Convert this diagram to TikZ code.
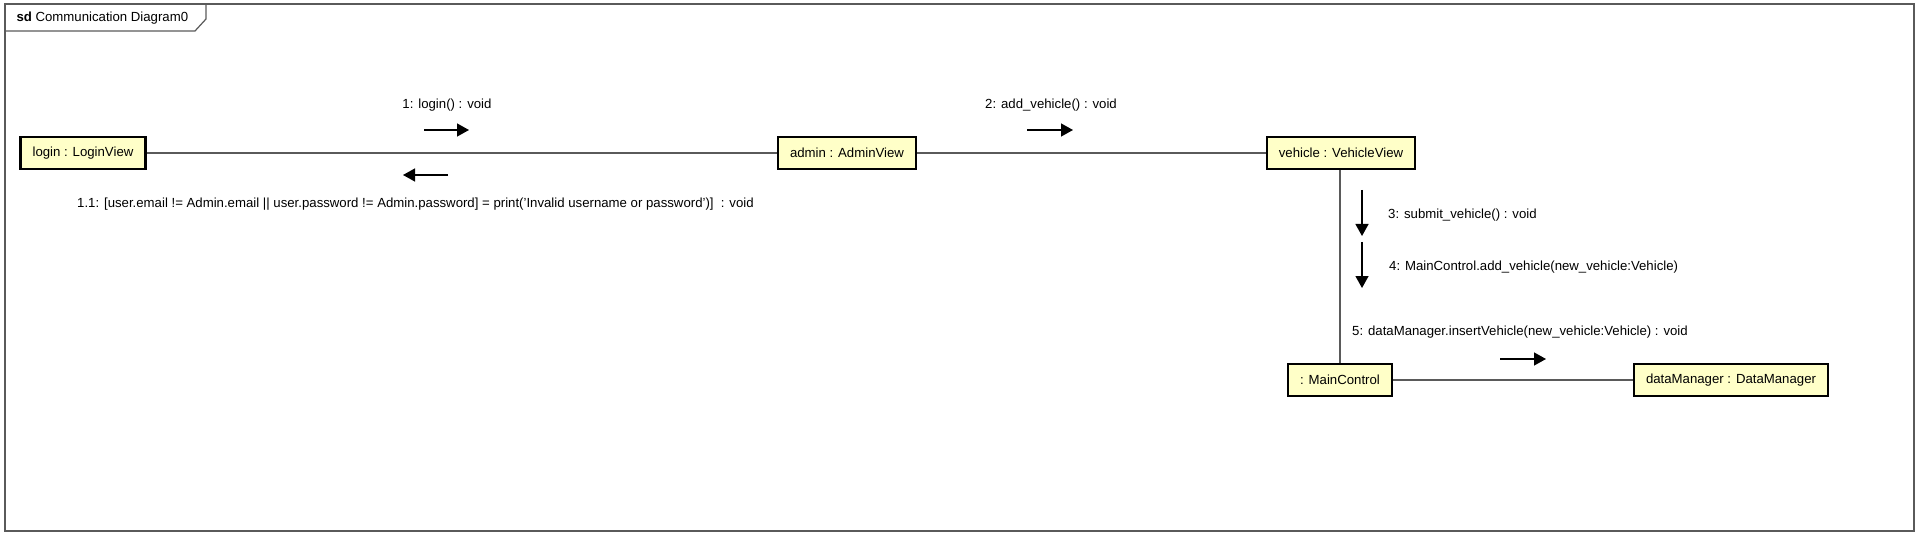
\documentclass[tikz,border=0pt]{standalone}
\usepackage{fontspec}
\setmainfont{Liberation Sans}
\usetikzlibrary{arrows.meta}
\definecolor{objfill}{RGB}{255,255,200}
\definecolor{framegray}{RGB}{90,90,90}
\tikzset{object/.style={draw=black,line width=2.3pt,fill=objfill,minimum height=32pt,inner xsep=12pt,font=\fontsize{13.2}{15}\selectfont},
         link/.style={draw=framegray,line width=1.3pt},
         msg/.style={line width=1.4pt,-{Triangle[length=12pt,width=13pt]}},
         msglabel/.style={font=\fontsize{13.2}{15}\selectfont,inner sep=0pt}}

\begin{document}
\begin{tikzpicture}[x=1pt,y=-1pt]
                  \useasboundingbox (0,0) rectangle (1920,540);
                  % frame
                  \draw[framegray,line width=1.4pt] (5,4) rectangle (1914,531);
                  \draw[framegray,line width=1.2pt] (5,31) -- (195,31) -- (206,19) -- (206,4);
                  \node[anchor=west,font=\fontsize{13.2}{15}\selectfont] (title) at (13,18) {\textbf{sd} Communication Diagram0};
                  % objects
                  \node[object] (login) at (83,153) {login : LoginView};
                  \node[object] (admin) at (847,153) {admin : AdminView};
                  \node[object] (vehicle) at (1341,153) {vehicle : VehicleView};
                  \node[object] (main) at (1340,380) {: MainControl};
                  \node[object] (dm) at (1731,380) {dataManager : DataManager};
                  \draw[link] (login) -- (admin);
                  \draw[link] (admin) -- (vehicle);
                  \draw[link] (vehicle.south -| main.north) -- (main.north);
                  \draw[link] (main) -- (dm);
                  % messages
                  \coordinate (m1a) at (424,130); \coordinate (m1b) at (469,130);
                  \coordinate (m11a) at (448,175); \coordinate (m11b) at (403,175);
                  \coordinate (m2a) at (1027,130); \coordinate (m2b) at (1073,130);
                  \coordinate (m3a) at (1362,190); \coordinate (m3b) at (1362,236);
                  \coordinate (m4a) at (1362,242); \coordinate (m4b) at (1362,288);
                  \coordinate (m5a) at (1500,359); \coordinate (m5b) at (1546,359);
                  \draw[msg] (m1a) -- (m1b);
                  \draw[msg] (m11a) -- (m11b);
                  \draw[msg] (m2a) -- (m2b);
                  \draw[msg] (m3a) -- (m3b);
                  \draw[msg] (m4a) -- (m4b);
                  \draw[msg] (m5a) -- (m5b);
                  \node[msglabel] (l1) at (447,105) {1: login() : void};
                  \node[msglabel,anchor=west] (l11) at (77,204) {1.1: [user.email != Admin.email || user.password != Admin.password] = print('Invalid username or password')]~~: void};
                  \node[msglabel] (l2) at (1051,105) {2: add\_vehicle() : void};
                  \node[msglabel,anchor=west] (l3) at (1388,215) {3: submit\_vehicle() : void};
                  \node[msglabel,anchor=west] (l4) at (1389,267) {4: MainControl.add\_vehicle(new\_vehicle:Vehicle)};
                  \node[msglabel,anchor=west] (l5) at (1352,332) {5: dataManager.insertVehicle(new\_vehicle:Vehicle) : void};
              \end{tikzpicture}
\end{document}
